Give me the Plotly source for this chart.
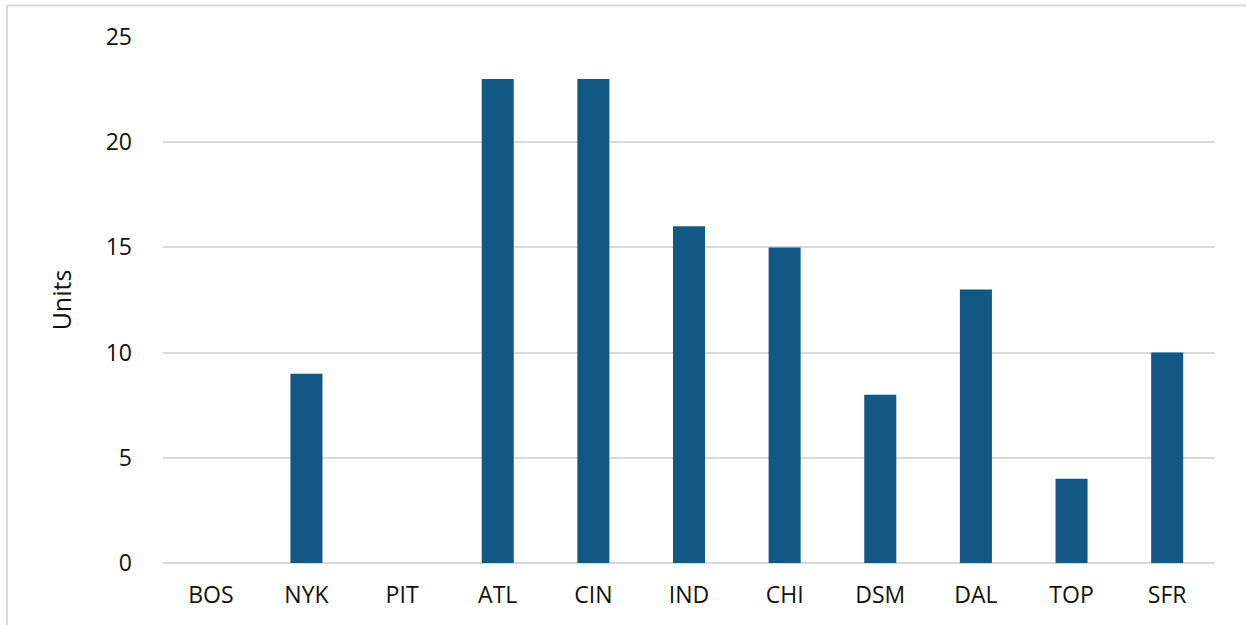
import plotly.graph_objects as go

categories = ["BOS", "NYK", "PIT", "ATL", "CIN", "IND", "CHI", "DSM", "DAL", "TOP", "SFR"]
units = [0, 9, 0, 23, 23, 16, 15, 8, 13, 4, 10]
y_ticks = [0, 5, 10, 15, 20, 25]

fig = go.Figure(go.Bar(x=categories, y=units, marker=dict(color="#135785", line=dict(width=0)), width=0.335))

L, R, T, B = 163, 31, 37, 62
W, H = 1246, 625
pw, ph = W - L - R, H - T - B

fig.update_layout(
    width=W, height=H,
    margin=dict(l=L, r=R, t=T, b=B),
    paper_bgcolor="white", plot_bgcolor="white",
    font=dict(family="Open Sans", size=23, color="#111111"),
    showlegend=False,
    xaxis=dict(showgrid=False, showline=False, zeroline=False, ticks="",
               ticklabelstandoff=16, tickfont=dict(size=23)),
    yaxis=dict(range=[0, 25], tickvals=y_ticks, showgrid=True, gridcolor="#d9d9d9", gridwidth=1.5,
               zeroline=True, zerolinecolor="#d9d9d9", zerolinewidth=1.5, showline=False,
               ticklabelstandoff=30, tickfont=dict(size=23),
               title=dict(text="Units", font=dict(size=25), standoff=26)),
    shapes=[
        dict(type="line", xref="paper", yref="paper", x0=(7 - L) / pw, x1=(W - L) / pw,
             y0=(T + ph - 5.5) / ph, y1=(T + ph - 5.5) / ph, line=dict(color="#d9d9d9", width=2)),
        dict(type="line", xref="paper", yref="paper", x0=(7 - L) / pw, x1=(7 - L) / pw,
             y0=(T + ph - 5.5) / ph, y1=-(B + 5) / ph, line=dict(color="#d9d9d9", width=2)),
    ],
)

fig.write_html("out.html", config={"displayModeBar": False},
               post_script="document.body.style.margin='0px';")
